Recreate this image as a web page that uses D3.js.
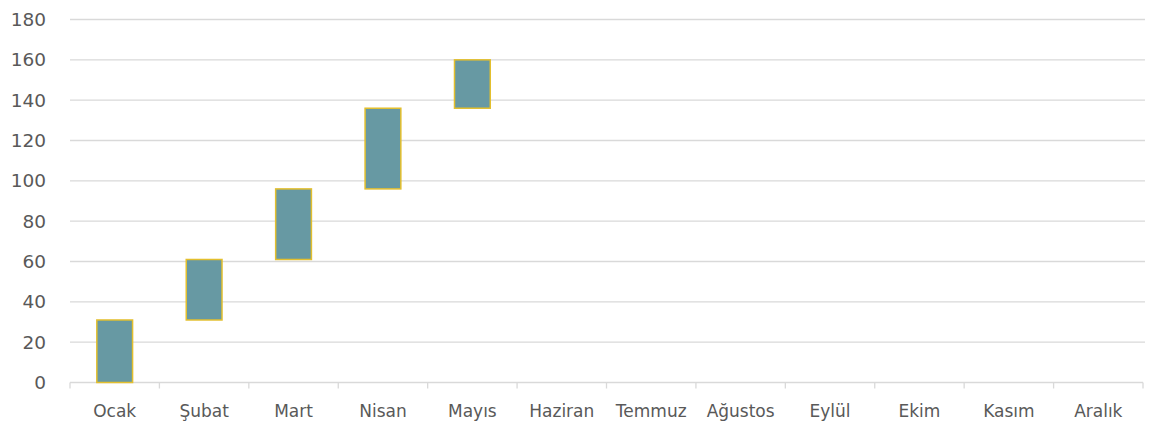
<!DOCTYPE html>
<html>
<head>
<meta charset="utf-8">
<script src="https://cdn.jsdelivr.net/npm/d3@7"></script>
<style>
  body { margin: 0; background: #fff; }
  svg { display: block; }
  text { font-family: "DejaVu Sans", sans-serif; fill: #595959; }
</style>
</head>
<body>
<svg id="chart" width="1149" height="422"></svg>
<script>
var months = ['Ocak', 'Şubat', 'Mart', 'Nisan', 'Mayıs', 'Haziran', 'Temmuz',
  'Ağustos', 'Eylül', 'Ekim', 'Kasım', 'Aralık'];
// floating bars: start and end value per month
var barStart = [0, 31, 61, 96, 136, null, null, null, null, null, null, null];
var barEnd = [31, 61, 96, 136, 160, null, null, null, null, null, null, null];
var yTicks = [0, 20, 40, 60, 80, 100, 120, 140, 160, 180];

var svg = d3.select('#chart');
// note: can't call it "top", that's window.top
var plotLeft = 70, plotRight = 1143, plotTop = 19.5, plotBottom = 382.5;

var x = d3.scaleBand().domain(months).range([plotLeft, plotRight]);
var y = d3.scaleLinear().domain([0, 180]).range([plotBottom, plotTop]);

// gridlines
svg.append('g').selectAll('line')
  .data(yTicks.filter(function (d) { return d > 0; }))
  .enter().append('line')
  .attr('x1', plotLeft).attr('x2', plotRight + 2)
  .attr('y1', function (d) { return y(d); })
  .attr('y2', function (d) { return y(d); })
  .attr('stroke', '#d9d9d9').attr('stroke-width', 1.3);

// y labels
svg.append('g').selectAll('text')
  .data(yTicks)
  .enter().append('text')
  .attr('x', 46)
  .attr('y', function (d) { return y(d); })
  .attr('dy', '0.36em')
  .attr('text-anchor', 'end')
  .attr('font-size', 18.5)
  .text(function (d) { return d; });

// x axis
var xAxis = svg.append('g').attr('transform', 'translate(0,' + plotBottom + ')');
xAxis.append('line').attr('x1', plotLeft).attr('x2', plotRight)
  .attr('stroke', '#d9d9d9').attr('stroke-width', 1.3);
var edges = months.map(function (m) { return x(m); }).concat([plotRight]);
xAxis.selectAll('line.tick').data(edges).enter().append('line')
  .attr('class', 'tick')
  .attr('x1', function (d) { return d; }).attr('x2', function (d) { return d; })
  .attr('y1', 0).attr('y2', 6)
  .attr('stroke', '#d9d9d9').attr('stroke-width', 1.3);
xAxis.selectAll('text').data(months).enter().append('text')
  .attr('x', function (d) { return x(d) + x.bandwidth() / 2; })
  .attr('y', 34)
  .attr('text-anchor', 'middle')
  .attr('font-size', 17)
  .text(function (d) { return d; });

// bars
var barW = x.bandwidth() / 2.5;
var bars = months.map(function (m, i) {
  return { m: m, s: barStart[i], e: barEnd[i] };
}).filter(function (d) { return d.s !== null; });

svg.append('g').selectAll('rect')
  .data(bars)
  .enter().append('rect')
  .attr('x', function (d) { return x(d.m) + (x.bandwidth() - barW) / 2; })
  .attr('y', function (d) { return y(d.e); })
  .attr('width', barW)
  .attr('height', function (d) { return y(d.s) - y(d.e); })
  .attr('fill', '#6799a3')
  .attr('stroke', '#e3bf2e')
  .attr('stroke-width', 1.5);
</script>
</body>
</html>
